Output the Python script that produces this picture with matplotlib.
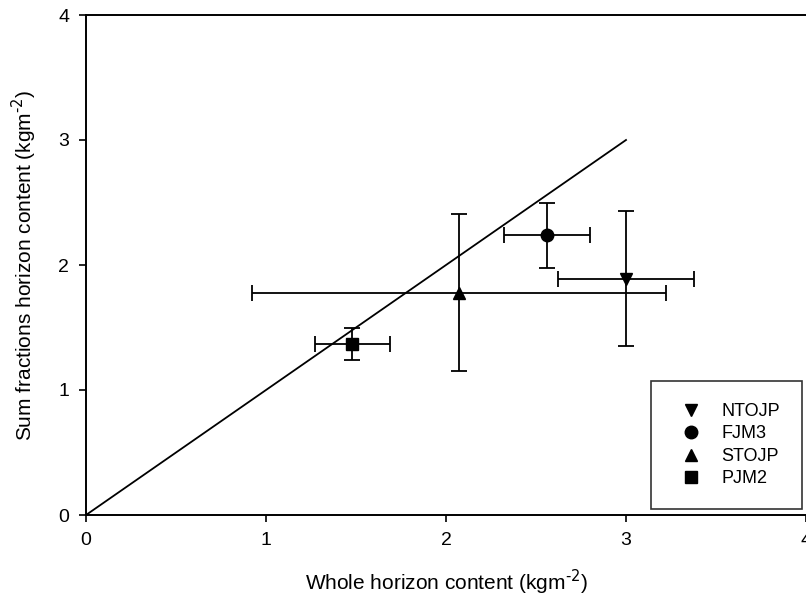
import matplotlib
matplotlib.use("Agg")
import matplotlib.pyplot as plt

plt.rcParams['font.family'] = ['Liberation Sans', 'DejaVu Sans']

names = ["NTOJP", "FJM3", "STOJP", "PJM2"]
markers = ["v", "o", "^", "s"]
whole = [3.00, 2.56, 2.07, 1.48]
sum_frac = [1.89, 2.24, 1.78, 1.37]
whole_err = [0.38, 0.24, 1.15, 0.21]
sum_err = [0.54, 0.26, 0.63, 0.13]

line_x = [0, 3]
line_y = [0, 3]

W, H = 806, 604
fig = plt.figure(figsize=(W / 100, H / 100), dpi=100)
ax = fig.add_axes([86 / W, (H - 515) / H, (W - 86) / W, 500 / H])

ax.plot(line_x, line_y, color="black", lw=1.3)

for n, m, x, y, xe, ye in zip(names, markers, whole, sum_frac, whole_err, sum_err):
    ax.errorbar(x, y, xerr=xe, yerr=ye, fmt=m, color="black", ms=9,
                elinewidth=1.3, capsize=5.5, capthick=1.3, label=n)

ax.set_xlim(0, 4)
ax.set_ylim(0, 4)
ax.set_xticks([0, 1, 2, 3, 4])
ax.set_yticks([0, 1, 2, 3, 4])
ax.tick_params(direction="out", length=5, width=1.2, labelsize=14, pad=7)
ax.spines["right"].set_visible(False)
for s in ["left", "bottom", "top"]:
    ax.spines[s].set_linewidth(1.4)

ax.set_xlabel("Whole horizon content (kgm$^{\\text{-}2}$)", fontsize=15, labelpad=14)
ax.set_ylabel("Sum fractions horizon content (kgm$^{\\text{-}2}$)", fontsize=15, labelpad=14)

handles = [plt.Line2D([], [], marker=m, color="black", ls="none", ms=9) for m in markers]
leg = ax.legend(handles, names, loc="lower right", bbox_to_anchor=(0.994, 0.012),
                borderaxespad=0, fontsize=13, frameon=True, fancybox=False,
                edgecolor="black", handletextpad=0.7, borderpad=1.2,
                labelspacing=0.3, handlelength=2.0)
leg.get_frame().set_linewidth(1.2)

fig.savefig("out.png", dpi=100)
